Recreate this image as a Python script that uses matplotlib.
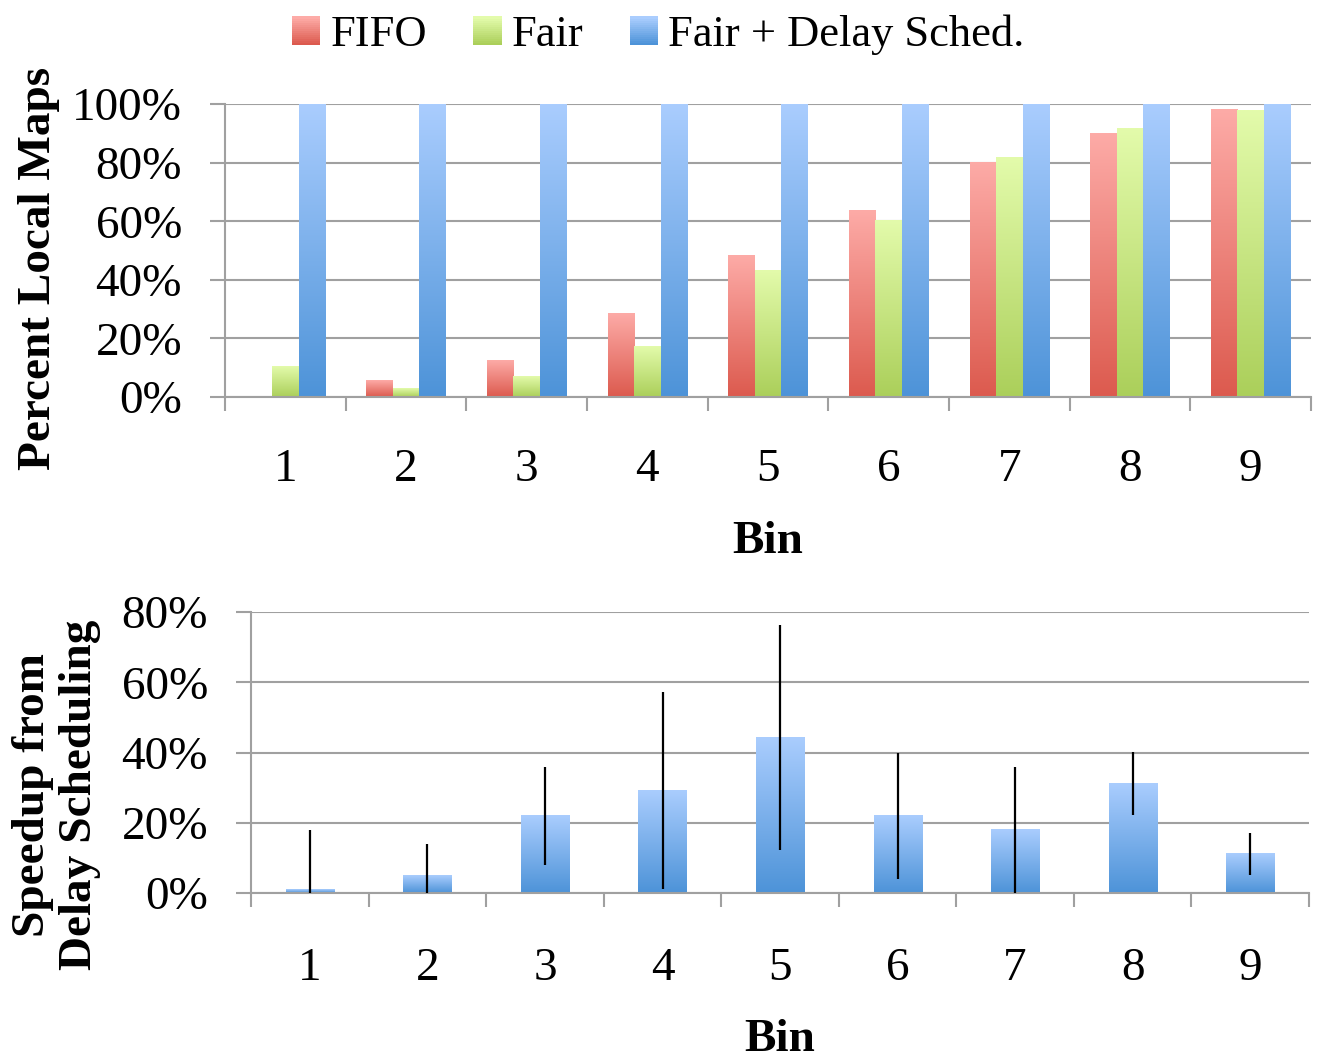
import numpy as np
import matplotlib
matplotlib.use('Agg')
import matplotlib.pyplot as plt
from matplotlib.colors import LinearSegmentedColormap
from matplotlib.patches import Rectangle, Patch
from matplotlib.legend_handler import HandlerBase
from matplotlib.ticker import FixedLocator, FuncFormatter

plt.rcParams['font.family'] = ['Liberation Serif', 'DejaVu Serif']

bins = [1, 2, 3, 4, 5, 6, 7, 8, 9]
fifo = [0, 5.6, 12.4, 28.5, 48.4, 63.5, 80.0, 89.8, 98.0]
fair = [10.4, 2.8, 6.9, 17.2, 43.3, 60.4, 81.6, 91.5, 97.7]
delay = [100, 100, 100, 100, 100, 100, 100, 100, 100]
speedup = [0.9, 4.9, 22.0, 29.1, 44.2, 22.0, 18.0, 31.1, 11.2]
speedup_err = [17, 9, 14, 28, 32, 18, 18, 9, 6]
names = ['FIFO', 'Fair', 'Fair + Delay Sched.']

# (top colour, bottom colour)
red = ('#fdaba7', '#dc5a4e')
green = ('#e3fbab', '#abcf5a')
blue = ('#aacdfe', '#4d93d8')
gray = '#a0a0a0'
fs = 34


def grad_cmap(cols):
    return LinearSegmentedColormap.from_list('g', [cols[1], cols[0]])


def grad_bars(ax, bars, cols):
    cmap = grad_cmap(cols)
    g = np.linspace(0, 1, 256).reshape(-1, 1)
    for b in bars:
        x0, y0 = b.get_x(), b.get_y()
        w, h = b.get_width(), b.get_height()
        b.set_visible(False)
        if h <= 0:
            continue
        ax.imshow(g, extent=[x0, x0 + w, y0, y0 + h], origin='lower', cmap=cmap,
                  aspect='auto', zorder=2, interpolation='bilinear')


class GradHandler(HandlerBase):
    def __init__(self, cols):
        super().__init__()
        self.cols = cols

    def create_artists(self, legend, orig, xd, yd, width, height, fontsize, trans):
        cmap = grad_cmap(self.cols)
        n = 14
        side = height
        x0 = -xd + (width - side) / 2
        arts = []
        for i in range(n):
            r = Rectangle((x0, -yd + side * i / n), side, side / n + 0.3,
                          facecolor=cmap(i / (n - 1)), linewidth=0, transform=trans)
            arts.append(r)
        return arts


def style_axis(ax, ymax, xpad):
    for s in ['top', 'right']:
        ax.spines[s].set_visible(False)
    for s in ['left', 'bottom']:
        ax.spines[s].set_color(gray)
        ax.spines[s].set_linewidth(1.5)
    ax.set_xlim(0.5, 9.5)
    ax.set_ylim(0, ymax)
    ax.set_yticks(np.arange(0, ymax + 1, 20))
    ax.yaxis.set_major_formatter(FuncFormatter(lambda v, p: '%d%%' % v))
    ax.yaxis.grid(True, color=gray, linewidth=1.5)
    ax.set_axisbelow(True)
    ax.set_xticks(bins)
    ax.xaxis.set_minor_locator(FixedLocator(np.arange(0.5, 10, 1)))
    ax.tick_params(axis='y', length=11, width=1.5, color=gray, pad=20, labelsize=fs)
    ax.tick_params(axis='x', which='major', length=0, pad=xpad, labelsize=fs)
    ax.tick_params(axis='x', which='minor', length=10, width=1.5, color=gray)


fig = plt.figure(figsize=(13.2, 10.63), dpi=100)
ax1 = fig.add_axes([0.1705, 0.6265, 0.8227, 0.2756])
ax2 = fig.add_axes([0.1902, 0.1599, 0.8015, 0.2643])

x = np.array(bins)
w = 0.22
b1 = ax1.bar(x - w, fifo, w)
b2 = ax1.bar(x, fair, w)
b3 = ax1.bar(x + w, delay, w)
grad_bars(ax1, b1, red)
grad_bars(ax1, b2, green)
grad_bars(ax1, b3, blue)
style_axis(ax1, 100, 37)
ax1.set_xlabel('Bin', fontsize=fs, fontweight='bold', labelpad=22)
ax1.set_ylabel('Percent Local Maps', fontsize=fs, fontweight='bold')
ax1.yaxis.set_label_coords(-0.152, 0.44)

b4 = ax2.bar(x, speedup, 0.41)
grad_bars(ax2, b4, blue)
ax2.errorbar(x, speedup, yerr=speedup_err, fmt='none', ecolor='black', elinewidth=1.6, capsize=0, zorder=3)
style_axis(ax2, 80, 39)
ax2.set_xlabel('Bin', fontsize=fs, fontweight='bold', labelpad=21)
ax2.set_ylabel('Speedup from\nDelay Scheduling', fontsize=fs, fontweight='bold', linespacing=1.15)
ax2.yaxis.set_label_coords(-0.142, 0.349)

handles = [Patch(label=n) for n in names]
fig.legend(handles=handles, labels=names, loc='center', bbox_to_anchor=(0.499, 0.967), ncol=3,
           frameon=False, fontsize=32, handlelength=0.6, handleheight=0.6, handletextpad=0.25,
           columnspacing=1.05,
           handler_map={handles[0]: GradHandler(red), handles[1]: GradHandler(green),
                        handles[2]: GradHandler(blue)})

fig.savefig('out.png', dpi=100)
